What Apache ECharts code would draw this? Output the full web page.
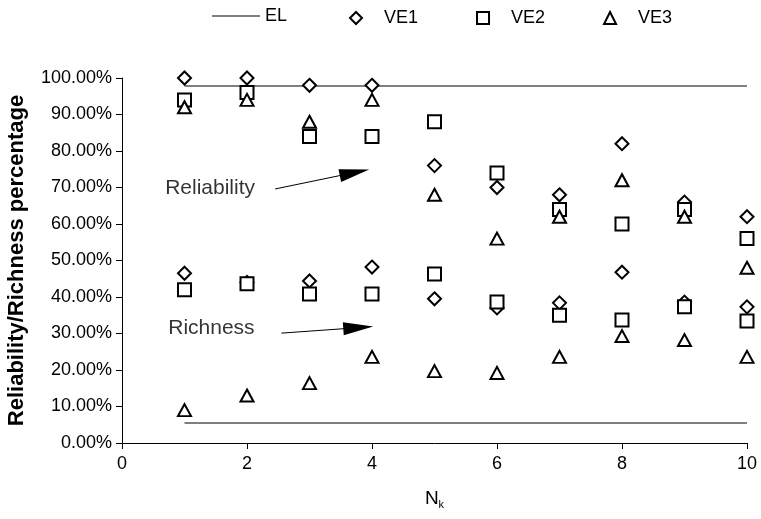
<!DOCTYPE html>
<html>
<head>
<meta charset="utf-8">
<script src="https://cdn.jsdelivr.net/npm/echarts@6/dist/echarts.min.js"></script>
<style>
  html, body { margin: 0; padding: 0; background: #fff; }
  #chart { width: 761px; height: 519px; }
</style>
</head>
<body>
<div id="chart"></div>
<script>
// N_k values
var nk = [1, 2, 3, 4, 5, 6, 7, 8, 9, 10]

// reliability (upper group) and richness (lower group), in %
var ve1Rel = [100, 100, 98, 98, 76, 70, 68, 82, 66, 62]
var ve2Rel = [94, 96, 84, 84, 88, 74, 64, 60, 64, 56]
var ve3Rel = [92, 94, 88, 94, 68, 56, 62, 72, 62, 48]
var ve1Rich = [46.5, 44, 44.4, 48.2, 39.5, 37, 38.4, 46.8, 38.6, 37.3]
var ve2Rich = [42, 43.6, 40.8, 40.8, 46.3, 38.6, 35, 33.7, 37.3, 33.4]
var ve3Rich = [9, 13, 16.4, 23.6, 19.7, 19.2, 23.6, 29.3, 28.2, 23.6]

// EL reference levels
var elHigh = 97.8
var elLow = 5.5

var yTicks = [0, 10, 20, 30, 40, 50, 60, 70, 80, 90, 100]

var font = 'Liberation Sans, Arial, sans-serif'

function pts(xs, a, b) {
  var out = []
  xs.forEach(function (x, i) { out.push([x, a[i]]) })
  xs.forEach(function (x, i) { out.push([x, b[i]]) })
  return out
}

var myChart = echarts.init(document.getElementById('chart'), null, { renderer: 'canvas' })

var markerStyle = { color: '#fff', borderColor: '#000', borderWidth: 2, opacity: 1 }
var legendText = { fontFamily: font, fontSize: 18, color: '#000' }

var option = {
  animation: false,
  backgroundColor: '#fff',
  textStyle: { fontFamily: font },
  legend: [
    {
      left: 207,
      top: 2,
      itemWidth: 48,
      itemHeight: 1.5,
      icon: 'rect',
      textStyle: legendText,
      data: ['EL']
    },
    {
      left: 344,
      top: 4,
      itemWidth: 12,
      itemHeight: 12,
      itemGap: 58,
      itemStyle: { borderWidth: 2, borderColor: '#000', color: '#fff' },
      textStyle: Object.assign({ padding: [0, 0, 0, 17] }, legendText),
      data: ['VE1', 'VE2', 'VE3']
    }
  ],
  grid: { left: 122, right: 14, top: 78, bottom: 76, containLabel: false, outerBoundsMode: 'none' },
  xAxis: {
    type: 'value',
    min: 0,
    max: 10,
    interval: 2,
    name: 'N{sub|k}',
    nameLocation: 'middle',
    nameGap: 44,
    nameTextStyle: {
      fontFamily: font, fontSize: 19, color: '#000',
      rich: { sub: { fontFamily: font, fontSize: 11, color: '#000', verticalAlign: 'bottom', padding: [12, 0, 0, 0] } }
    },
    axisLine: { lineStyle: { color: '#000', width: 1 } },
    axisTick: { length: 6, lineStyle: { color: '#000' } },
    axisLabel: { fontFamily: font, fontSize: 18, color: '#000', margin: 12 },
    splitLine: { show: false }
  },
  yAxis: {
    type: 'value',
    min: yTicks[0],
    max: yTicks[yTicks.length - 1],
    interval: 10,
    name: 'Reliability/Richness percentage',
    nameLocation: 'middle',
    nameGap: 94,
    nameTextStyle: { fontFamily: font, fontSize: 22, fontWeight: 'bold', color: '#000' },
    axisLine: { show: true, lineStyle: { color: '#000', width: 1 } },
    axisTick: { show: true, length: 6, lineStyle: { color: '#000' } },
    axisLabel: {
      fontFamily: font, fontSize: 18, color: '#000', margin: 10,
      formatter: function (v) { return v.toFixed(2) + '%' }
    },
    splitLine: { show: false }
  },
  series: [
    {
      name: 'EL',
      type: 'line',
      symbol: 'none',
      lineStyle: { color: '#555', width: 1.5 },
      itemStyle: { color: '#555' },
      data: [[nk[0], elHigh], [nk[nk.length - 1], elHigh]],
      z: 1
    },
    {
      name: 'EL',
      type: 'line',
      symbol: 'none',
      lineStyle: { color: '#555', width: 1.5 },
      itemStyle: { color: '#555' },
      data: [[nk[0], elLow], [nk[nk.length - 1], elLow]],
      z: 1
    },
    {
      name: 'VE1',
      type: 'scatter',
      symbol: 'diamond',
      symbolSize: [13, 13],
      itemStyle: markerStyle,
      data: pts(nk, ve1Rel, ve1Rich),
      z: 2
    },
    {
      name: 'VE2',
      type: 'scatter',
      symbol: 'rect',
      symbolSize: 13,
      itemStyle: markerStyle,
      data: pts(nk, ve2Rel, ve2Rich),
      z: 3
    },
    {
      name: 'VE3',
      type: 'scatter',
      symbol: 'triangle',
      symbolSize: [13, 12],
      itemStyle: markerStyle,
      data: pts(nk, ve3Rel, ve3Rich),
      z: 4
    },
    {
      name: 'annotations',
      type: 'scatter',
      symbolSize: 0,
      silent: true,
      label: {
        show: true,
        position: 'right',
        distance: 0,
        fontFamily: font,
        fontSize: 21,
        color: '#000',
        formatter: function (p) { return p.name }
      },
      data: [
        { name: 'Reliability', value: [0.69, 69.9] },
        { name: 'Richness', value: [0.74, 31.5] }
      ],
      markLine: {
        silent: true,
        symbol: ['none', 'triangle'],
        lineStyle: { color: '#000', width: 1, type: 'solid' },
        label: { show: false },
        data: [
          [{ coord: [2.45, 69.6], symbol: 'none' }, { coord: [3.72, 74.1], symbol: 'triangle', symbolSize: [13, 30], itemStyle: { color: '#000' } }],
          [{ coord: [2.55, 30.1], symbol: 'none' }, { coord: [3.78, 31.6], symbol: 'triangle', symbolSize: [13, 30], itemStyle: { color: '#000' } }]
        ]
      }
    }
  ]
}

option && myChart.setOption(option)
</script>
</body>
</html>
